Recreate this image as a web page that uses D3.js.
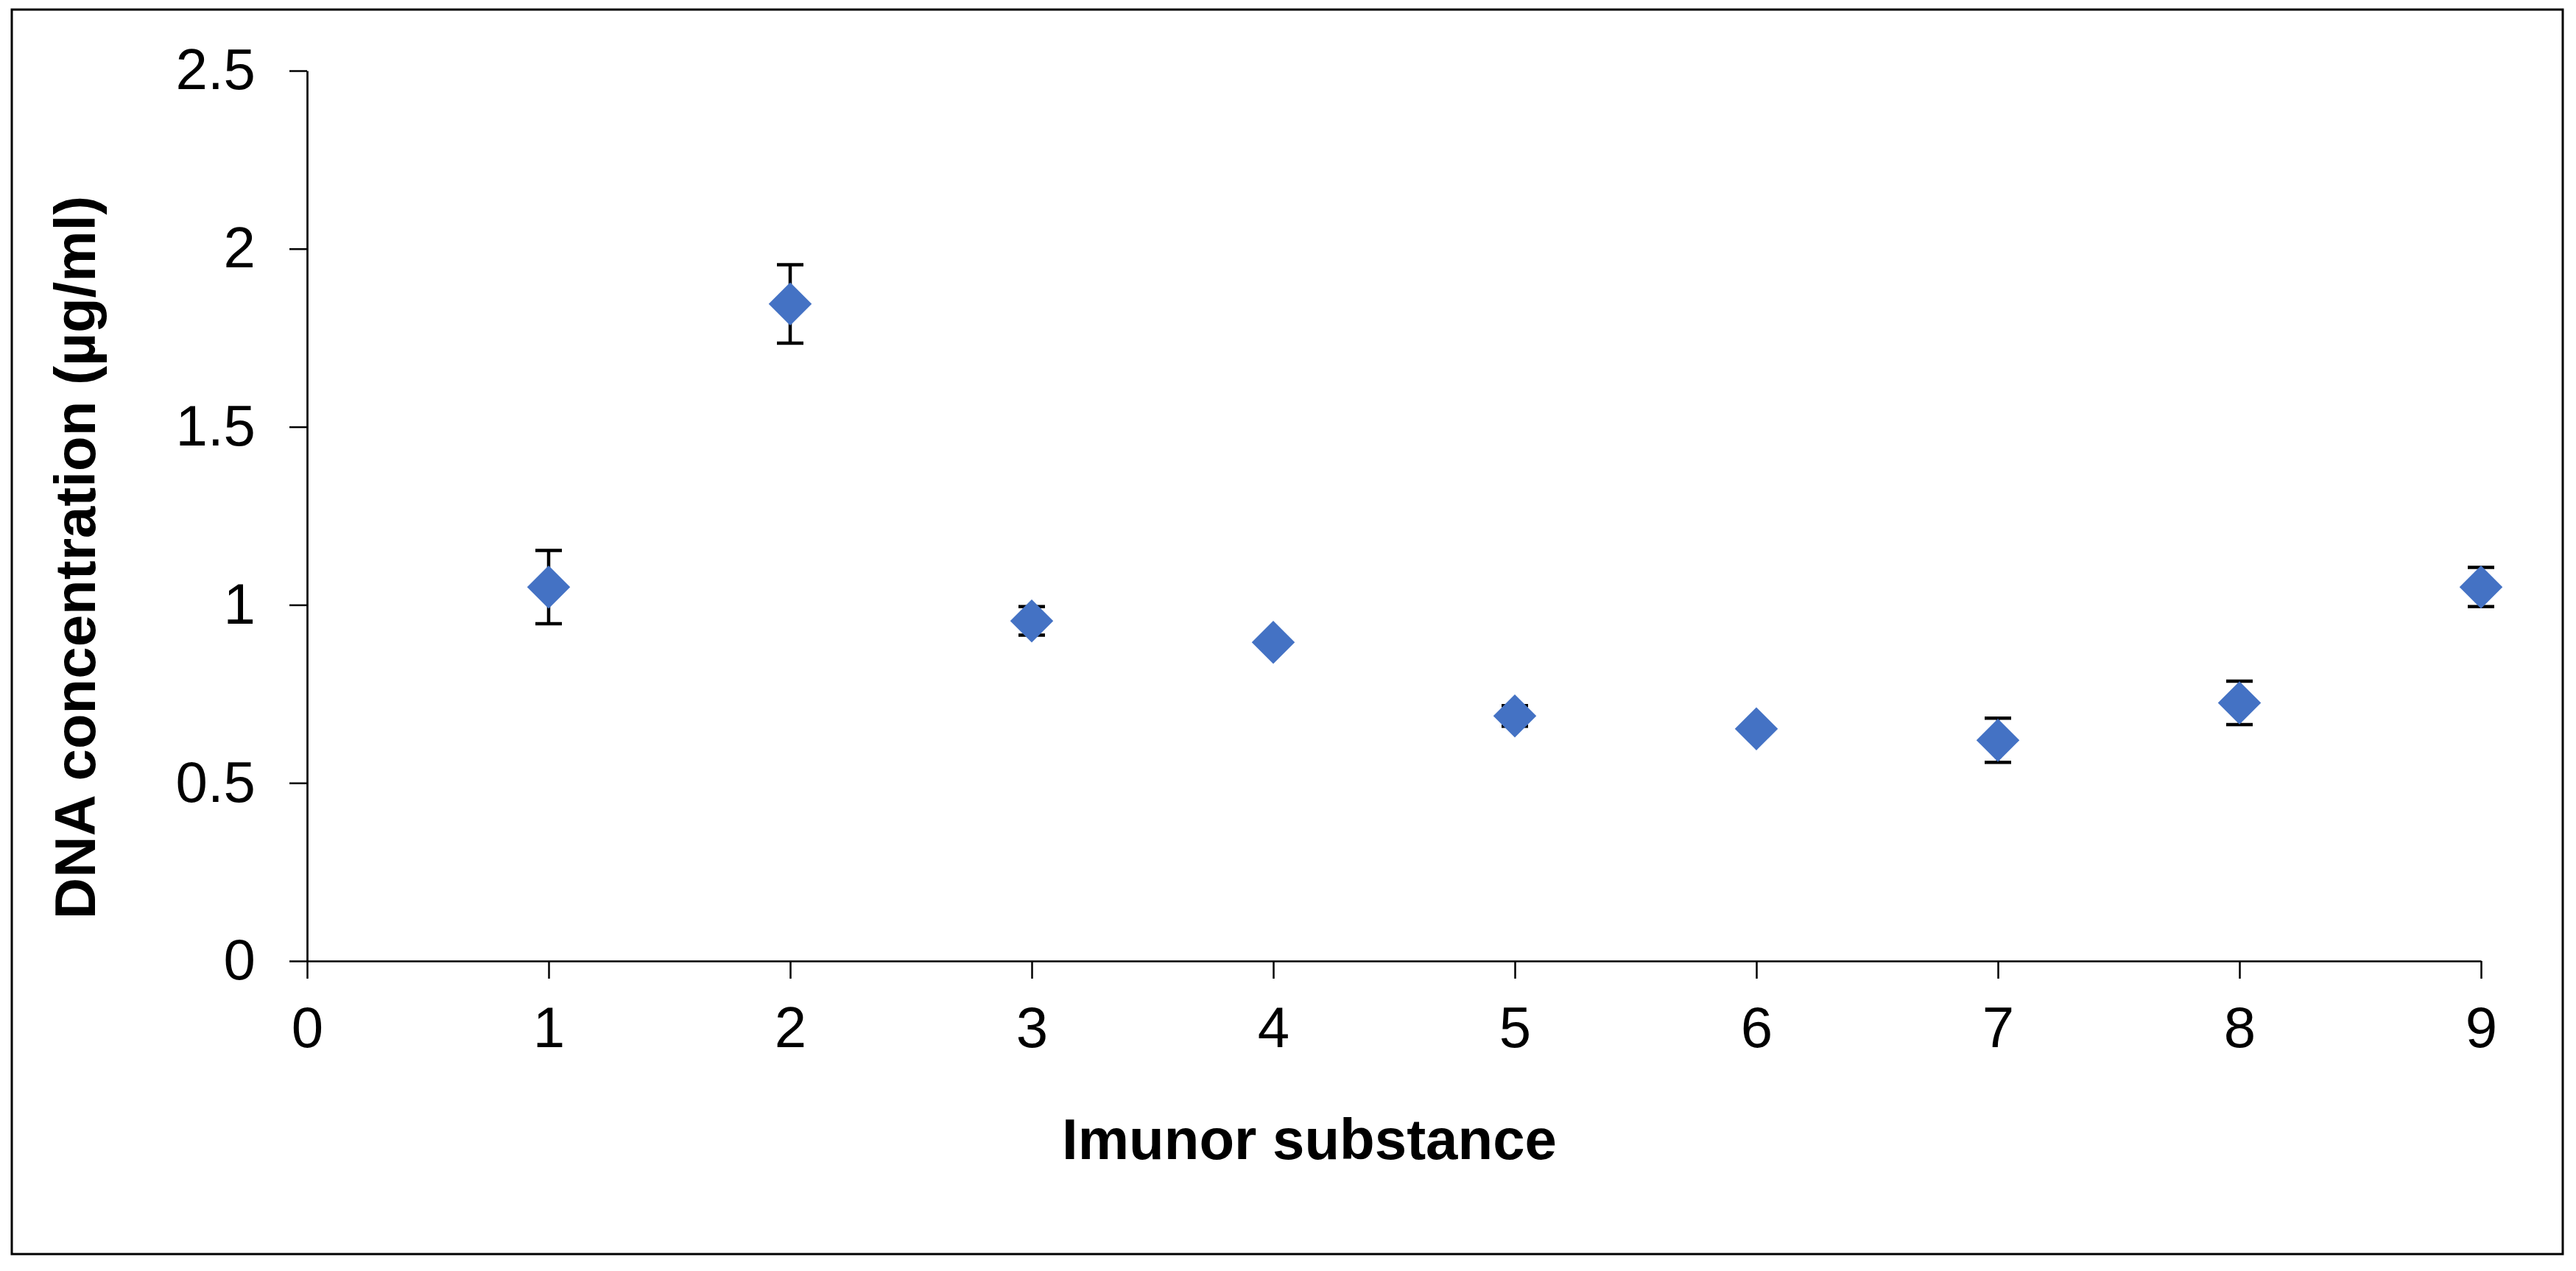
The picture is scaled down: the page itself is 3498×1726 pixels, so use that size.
<!DOCTYPE html>
<html>
<head>
<meta charset="utf-8">
<script src="https://cdn.jsdelivr.net/npm/d3@7"></script>
<style>
  html, body { margin: 0; padding: 0; background: #fff; }
  svg { display: block; }
</style>
</head>
<body>
<svg id="chart"></svg>
<script>
// data
const substances = [1, 2, 3, 4, 5, 6, 7, 8, 9];
const dnaConc = [1.05, 1.845, 0.955, 0.895, 0.688, 0.652, 0.62, 0.725, 1.05];
const dnaErr = [0.103, 0.11, 0.04, 0.015, 0.029, 0.01, 0.062, 0.061, 0.055];
const xTicks = [0, 1, 2, 3, 4, 5, 6, 7, 8, 9];
const yTicks = [0, 0.5, 1, 1.5, 2, 2.5];
const yTickLabels = ['0', '0.5', '1', '1.5', '2', '2.5'];

const width = 3498, height = 1726;
const margin = { top: 96, right: 129, bottom: 421, left: 417 };
const font = '"Liberation Sans", Arial, sans-serif';

const svg = d3.select('#chart')
  .attr('width', width)
  .attr('height', height)
  .attr('viewBox', `0 0 ${width} ${height}`);

// outer frame
svg.append('rect')
  .attr('x', 16).attr('y', 13)
  .attr('width', 3464).attr('height', 1690)
  .attr('fill', 'none')
  .attr('stroke', '#000')
  .attr('stroke-width', 3);

const x = d3.scaleLinear()
  .domain([0, 9])
  .range([margin.left, width - margin.right]);

const y = d3.scaleLinear()
  .domain([0, 2.5])
  .range([height - margin.bottom, margin.top]);

// x axis
const gx = svg.append('g')
  .attr('transform', `translate(0,${height - margin.bottom})`)
  .call(d3.axisBottom(x)
    .tickValues(xTicks)
    .tickFormat(d => String(d))
    .tickSize(24)
    .tickSizeOuter(0)
    .tickPadding(38));

// y axis
const gy = svg.append('g')
  .attr('transform', `translate(${margin.left},0)`)
  .call(d3.axisLeft(y)
    .tickValues(yTicks)
    .tickFormat((d, i) => yTickLabels[i])
    .tickSize(24)
    .tickSizeOuter(0)
    .tickPadding(46));

[gx, gy].forEach(g => {
  g.select('.domain').attr('stroke', '#000').attr('stroke-width', 2.7);
  g.selectAll('.tick line').attr('stroke', '#000').attr('stroke-width', 2.5);
  g.selectAll('.tick text')
    .attr('fill', '#000')
    .style('font-family', font)
    .style('font-size', '78px');
});

// axis titles
svg.append('text')
  .attr('x', 1778)
  .attr('y', 1574)
  .attr('text-anchor', 'middle')
  .style('font-family', font)
  .style('font-size', '78px')
  .style('font-weight', 'bold')
  .text('Imunor substance');

svg.append('text')
  .attr('transform', `translate(129,757) rotate(-90)`)
  .attr('text-anchor', 'middle')
  .style('font-family', font)
  .style('font-size', '78px')
  .style('font-weight', 'bold')
  .text('DNA concentration (µg/ml)');

const points = substances.map((s, i) => ({ s, v: dnaConc[i], e: dnaErr[i] }));

// error bars behind markers
const eb = svg.append('g')
  .attr('stroke', '#000')
  .attr('stroke-width', 4.5);

eb.selectAll('line.stem')
  .data(points)
  .enter()
  .append('line')
  .attr('class', 'stem')
  .attr('x1', d => x(d.s)).attr('x2', d => x(d.s))
  .attr('y1', d => y(d.v + d.e)).attr('y2', d => y(d.v - d.e));

eb.selectAll('line.capTop')
  .data(points)
  .enter()
  .append('line')
  .attr('class', 'capTop')
  .attr('x1', d => x(d.s) - 18).attr('x2', d => x(d.s) + 18)
  .attr('y1', d => y(d.v + d.e)).attr('y2', d => y(d.v + d.e));

eb.selectAll('line.capBottom')
  .data(points)
  .enter()
  .append('line')
  .attr('class', 'capBottom')
  .attr('x1', d => x(d.s) - 18).attr('x2', d => x(d.s) + 18)
  .attr('y1', d => y(d.v - d.e)).attr('y2', d => y(d.v - d.e));

// diamond markers (square turned 45 degrees)
const diamond = d3.symbol().type(d3.symbolSquare).size(1711);

svg.append('g')
  .selectAll('path')
  .data(points)
  .enter()
  .append('path')
  .attr('d', diamond)
  .attr('transform', d => `translate(${x(d.s)},${y(d.v)}) rotate(45)`)
  .attr('fill', '#4472C4');
</script>
</body>
</html>
